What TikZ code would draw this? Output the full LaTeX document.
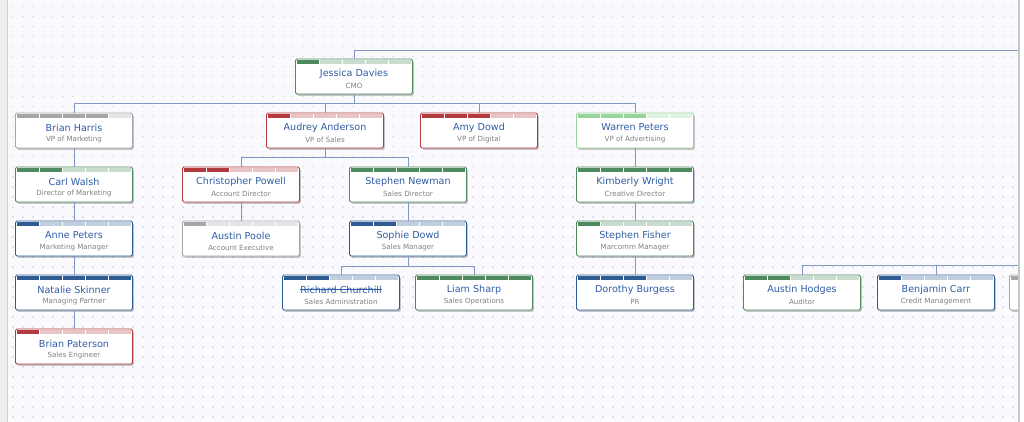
\documentclass[tikz,border=0pt]{standalone}
\usepackage{fontspec}
\setmainfont{DejaVu Sans}
\usepackage{tikz}
\usepackage{xcolor}
\usetikzlibrary{calc, shadows}
\definecolor{cgreen}{HTML}{4F8A5E}
\definecolor{clime}{HTML}{98D49A}
\definecolor{cred}{HTML}{B2393E}
\definecolor{cblue}{HTML}{2D5B92}
\definecolor{cgrey}{HTML}{A6A6A6}
\definecolor{cname}{HTML}{2F5DA6}
\definecolor{clink}{HTML}{8098C0}
\definecolor{cpage}{HTML}{FAF9FD}
\definecolor{cdot}{HTML}{E1DFE8}
\tikzset{
    card/.style={draw, fill=white, line width=0.8pt, rounded corners=1.5pt,
        minimum width=117pt, minimum height=35pt, inner sep=0pt,
        drop shadow={shadow xshift=1.4pt, shadow yshift=-1.8pt, opacity=0.3, fill=black!70}},
    who/.style={inner sep=0pt, text=cname, font=\fontsize{9.6}{10}\selectfont},
    job/.style={inner sep=0pt, text=black!50, font=\fontsize{7.1}{8}\selectfont},
    link/.style={draw=clink, line width=0.8pt},
}
% card: id, centre x, top y, colour, filled segments, person, role
\newcommand{\orgbox}[7]{%
    \node[card, draw=#4] (#1) at (#2,#3+17.5) {};
    \foreach \s in {1,...,5}{%
        \ifnum\s>#5 \def\segcol{#4!30!white}\else\def\segcol{#4}\fi
        \fill[\segcol] (#2-57+\s*23-23,#3+0.9) rectangle ++(22,4);
    }
    \node[who] (#1-n) at (#2,#3+14.5) {#6};
    \node[job] (#1-t) at (#2,#3+27) {#7};
}

\begin{document}
\begin{tikzpicture}[x=1pt, y=-1pt]
    \useasboundingbox (0,0) rectangle (1024,422);
    \fill[cpage] (0,0) rectangle (1024,422);
    \foreach \x in {12,22,...,1012}
        \foreach \y in {6,16,...,416}
            \fill[cdot] (\x,\y) rectangle ++(1.5,1.5);
    \fill[black!7] (0,0) rectangle (8,422);
    \draw[black!18, line width=1pt] (7,0) -- (7,422);

    % cards
    \orgbox{jd}{354}{59}{cgreen}{1}{Jessica Davies}{CMO}

    \orgbox{bh}{74}{113}{cgrey}{4}{Brian Harris}{VP of Marketing}
    \orgbox{aa}{325}{113}{cred}{1}{Audrey Anderson}{VP of Sales}
    \orgbox{ad}{479}{113}{cred}{3}{Amy Dowd}{VP of Digital}
    \orgbox{wp}{635}{113}{clime}{3}{Warren Peters}{VP of Advertising}

    \orgbox{cw}{74}{167}{cgreen}{2}{Carl Walsh}{Director of Marketing}
    \orgbox{cp}{241}{167}{cred}{2}{Christopher Powell}{Account Director}
    \orgbox{sn}{408}{167}{cgreen}{5}{Stephen Newman}{Sales Director}
    \orgbox{kw}{635}{167}{cgreen}{5}{Kimberly Wright}{Creative Director}

    \orgbox{ap}{74}{221}{cblue}{1}{Anne Peters}{Marketing Manager}
    \orgbox{apo}{241}{221}{cgrey}{1}{Austin Poole}{Account Executive}
    \orgbox{sd}{408}{221}{cblue}{2}{Sophie Dowd}{Sales Manager}
    \orgbox{sf}{635}{221}{cgreen}{1}{Stephen Fisher}{Marcomm Manager}

    \orgbox{ns}{74}{275}{cblue}{5}{Natalie Skinner}{Managing Partner}
    \orgbox{rc}{341}{275}{cblue}{2}{Richard Churchill}{Sales Administration}
    \orgbox{ls}{474}{275}{cgreen}{5}{Liam Sharp}{Sales Operations}
    \orgbox{db}{635}{275}{cblue}{3}{Dorothy Burgess}{PR}
    \orgbox{ah}{802}{275}{cgreen}{2}{Austin Hodges}{Auditor}
    \orgbox{bc}{936}{275}{cblue}{1}{Benjamin Carr}{Credit Management}
    \begin{scope}
        \clip (0,0) rectangle (1018.5,422);
        \orgbox{px}{1068}{275}{cgrey}{1}{}{}
    \end{scope}

    \orgbox{bp}{74}{329}{cred}{1}{Brian Paterson}{Sales Engineer}

    \draw[cname, line width=0.6pt] ($(rc-n.base west)+(0,-3.4)$) -- ($(rc-n.base east)+(0,-3.4)$);

    % connectors
    \coordinate (edgeA) at (1019,50);
    \coordinate (edgeB) at (1019,265);
    \draw[link] (jd.north) |- (edgeA);
    \foreach \c in {bh,aa,ad,wp}
        \draw[link] (jd.south) -- ++(0,9.5) -| (\c.north);
    \foreach \c in {cp,sn}
        \draw[link] (aa.south) -- ++(0,9.5) -| (\c.north);
    \foreach \c in {rc,ls}
        \draw[link] (sd.south) -- ++(0,9.5) -| (\c.north);
    \draw[link] (bh) -- (cw) (cw) -- (ap) (ap) -- (ns) (ns) -- (bp);
    \draw[link] (cp) -- (apo) (sn) -- (sd);
    \draw[link] (wp) -- (kw) (kw) -- (sf) (sf) -- (db);
    \draw[link] (edgeB) -| (ah.north);
    \draw[link] (edgeB) -| (bc.north);

    \draw[black!22, line width=1.2pt] (1019,0) -- (1019,422);
    \fill[white] (1019.6,0) rectangle (1024,422);
\end{tikzpicture}
\end{document}
